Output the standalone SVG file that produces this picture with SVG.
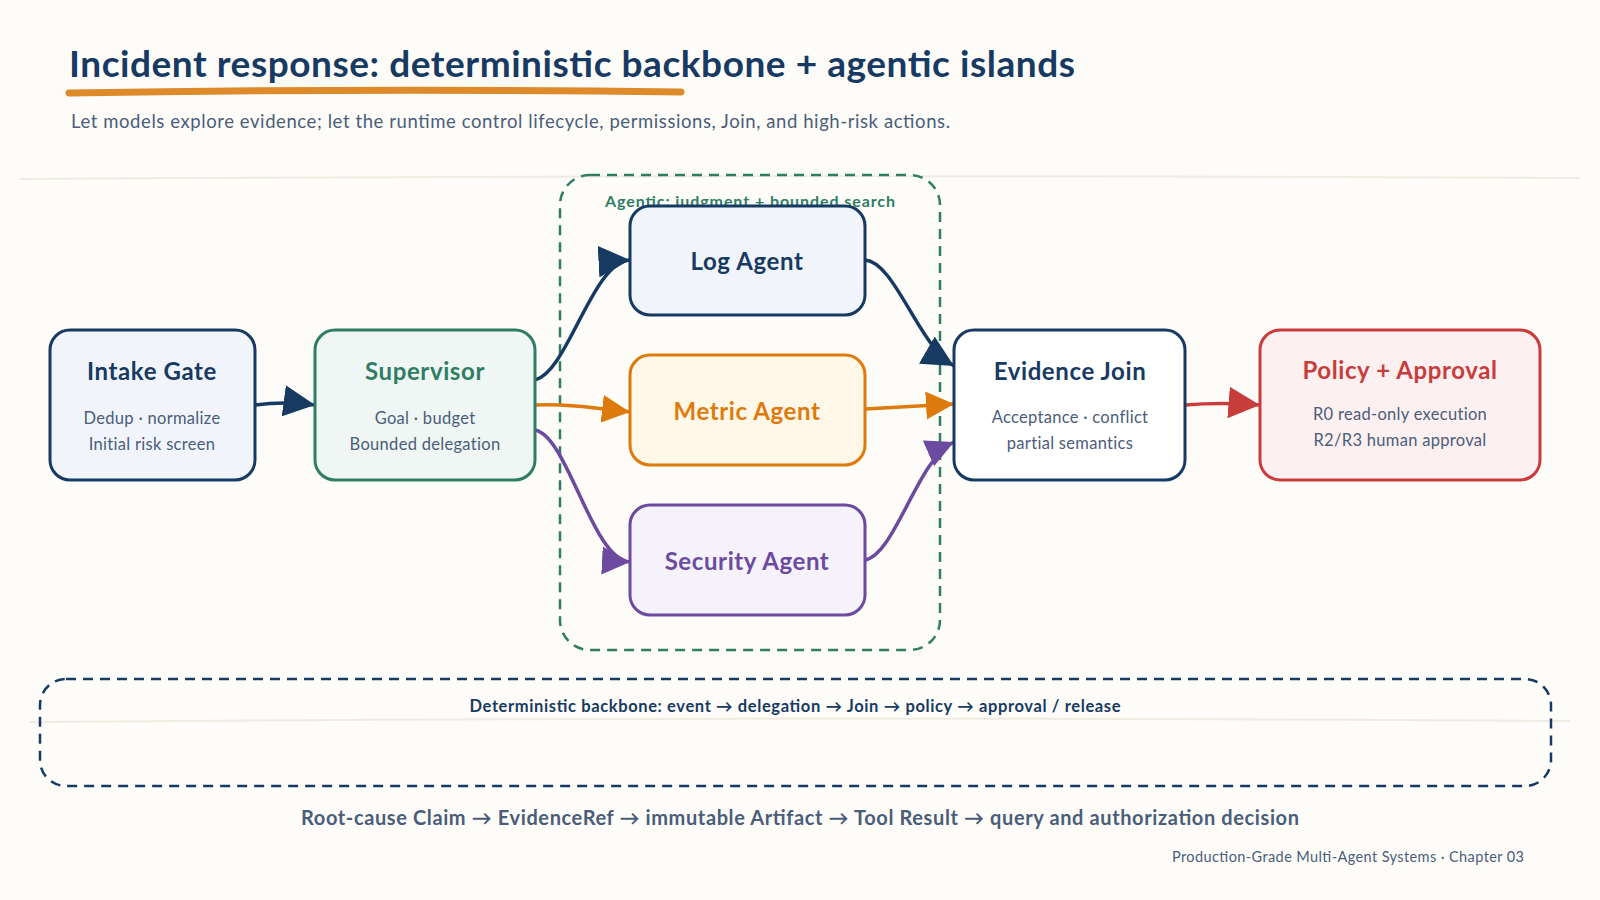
<svg xmlns="http://www.w3.org/2000/svg" width="1600" height="900" viewBox="0 0 1600 900">
<defs>
<style>
text{font-family:Lato,"Noto Sans","DejaVu Sans",sans-serif}
.title{font-size:37px;font-weight:700;fill:#173a63}
.sub{font-size:18.5px;fill:#4a5d7a}
.nt{font-size:24px;font-weight:700;text-anchor:middle;letter-spacing:0.6px}
.ns{font-size:16.5px;fill:#4a5d7a;text-anchor:middle;letter-spacing:0.3px}
.node{stroke-width:3}
.conn{fill:none;stroke-width:3.5;stroke-linecap:round}
.grp{fill:none;stroke-width:2.5;stroke-dasharray:10 7}
</style>
<marker id="aNavy" viewBox="0 0 10 10" refX="10" refY="5" markerWidth="9" markerHeight="9" orient="auto" markerUnits="strokeWidth"><path d="M0,0 L10,5 L0,10 z" fill="#173a63"/></marker>
<marker id="aOrange" viewBox="0 0 10 10" refX="10" refY="5" markerWidth="8" markerHeight="8" orient="auto" markerUnits="strokeWidth"><path d="M0,0 L10,5 L0,10 z" fill="#de7a0b"/></marker>
<marker id="aPurple" viewBox="0 0 10 10" refX="10" refY="5" markerWidth="8" markerHeight="8" orient="auto" markerUnits="strokeWidth"><path d="M0,0 L10,5 L0,10 z" fill="#6b4aa0"/></marker>
<marker id="aRed" viewBox="0 0 10 10" refX="10" refY="5" markerWidth="9" markerHeight="9" orient="auto" markerUnits="strokeWidth"><path d="M0,0 L10,5 L0,10 z" fill="#c93c3c"/></marker>
</defs>
<rect width="1600" height="900" fill="#fdfcf8"/>
<path d="M20,179 Q800,174 1580,178" stroke="#efebe2" stroke-width="2" fill="none"/>
<path d="M30,722 Q800,716 1570,721" stroke="#efebe2" stroke-width="2" fill="none"/>

<g id="header">
<text class="title" x="69" y="77" textLength="1006" lengthAdjust="spacing">Incident response: deterministic backbone + agentic islands</text>
<path d="M69,93 Q380,88 681,92" stroke="#de8a2a" stroke-width="7" fill="none" stroke-linecap="round"/>
<text class="sub" x="71" y="128" textLength="879" lengthAdjust="spacing">Let models explore evidence; let the runtime control lifecycle, permissions, Join, and high-risk actions.</text>
</g>

<g id="agentic-group">
<rect class="grp" x="560" y="175" width="380" height="475" rx="30" stroke="#2e7d64"/>
<text x="750" y="207" text-anchor="middle" font-size="16" font-weight="700" fill="#2e7d64" textLength="290" lengthAdjust="spacing">Agentic: judgment + bounded search</text>
</g>

<g id="backbone-group">
<rect class="grp" x="40" y="679" width="1511" height="107" rx="26" stroke="#173a63"/>
<text x="795" y="712" text-anchor="middle" font-size="16.5" font-weight="700" fill="#173a63" textLength="651" lengthAdjust="spacing">Deterministic backbone: event → delegation → Join → policy → approval / release</text>
</g>

<g id="connectors">
<path class="conn" d="M255,405 Q285,401 315,405" stroke="#173a63" marker-end="url(#aNavy)"/>
<path class="conn" d="M535,380 C568,372 592,262 630,260" stroke="#173a63" marker-end="url(#aNavy)"/>
<path class="conn" d="M535,405 C570,404 595,408 630,412" stroke="#de7a0b" marker-end="url(#aOrange)"/>
<path class="conn" d="M535,430 C568,436 592,560 630,562" stroke="#6b4aa0" marker-end="url(#aPurple)"/>
<path class="conn" d="M865,260 C895,262 918,345 954,366" stroke="#173a63" marker-end="url(#aNavy)"/>
<path class="conn" d="M865,409 L954,404" stroke="#de7a0b" marker-end="url(#aOrange)"/>
<path class="conn" d="M865,560 C895,555 918,458 954,442" stroke="#6b4aa0" marker-end="url(#aPurple)"/>
<path class="conn" d="M1185,405 Q1222,402 1260,405" stroke="#c93c3c" stroke-width="4.5" marker-end="url(#aRed)"/>
</g>

<g id="intake-gate">
<rect class="node" x="50" y="330" width="205" height="150" rx="20" fill="#f1f5fb" stroke="#173a63"/>
<text class="nt" x="152" y="380" fill="#173a63">Intake Gate</text>
<text class="ns" x="152" y="424">Dedup · normalize</text>
<text class="ns" x="152" y="450">Initial risk screen</text>
</g>

<g id="supervisor">
<rect class="node" x="315" y="330" width="220" height="150" rx="20" fill="#eff6f3" stroke="#2e7d64"/>
<text class="nt" x="425" y="380" fill="#2e7d64">Supervisor</text>
<text class="ns" x="425" y="424">Goal · budget</text>
<text class="ns" x="425" y="450">Bounded delegation</text>
</g>

<g id="log-agent">
<rect class="node" x="630" y="206" width="235" height="109" rx="20" fill="#f1f5fb" stroke="#173a63"/>
<text class="nt" x="747" y="270" fill="#173a63">Log Agent</text>
</g>

<g id="metric-agent">
<rect class="node" x="630" y="355" width="235" height="110" rx="20" fill="#fff7e8" stroke="#de7a0b"/>
<text class="nt" x="747" y="420" fill="#de7a0b">Metric Agent</text>
</g>

<g id="security-agent">
<rect class="node" x="630" y="505" width="235" height="110" rx="20" fill="#f5f2fb" stroke="#6b4aa0"/>
<text class="nt" x="747" y="570" fill="#6b4aa0">Security Agent</text>
</g>

<g id="evidence-join">
<rect class="node" x="954" y="330" width="231" height="150" rx="20" fill="#ffffff" stroke="#173a63" stroke-width="3.5"/>
<text class="nt" x="1070" y="380" fill="#173a63">Evidence Join</text>
<text class="ns" x="1070" y="423">Acceptance · conflict</text>
<text class="ns" x="1070" y="449">partial semantics</text>
</g>

<g id="policy-approval">
<rect class="node" x="1260" y="330" width="280" height="150" rx="20" fill="#fdf0f0" stroke="#c93c3c" stroke-width="3.5"/>
<text class="nt" x="1400" y="379" fill="#c93c3c">Policy + Approval</text>
<text class="ns" x="1400" y="420" fill="#173a63">R0 read-only execution</text>
<text class="ns" x="1400" y="446" fill="#173a63">R2/R3 human approval</text>
</g>

<g id="footer">
<text x="800" y="825" text-anchor="middle" font-size="20" font-weight="700" fill="#4a5d7a" textLength="998" lengthAdjust="spacing">Root-cause Claim → EvidenceRef → immutable Artifact → Tool Result → query and authorization decision</text>
<text x="1524" y="862" text-anchor="end" font-size="14.5" fill="#4a5d7a" textLength="352" lengthAdjust="spacing">Production-Grade Multi-Agent Systems · Chapter 03</text>
</g>
</svg>
